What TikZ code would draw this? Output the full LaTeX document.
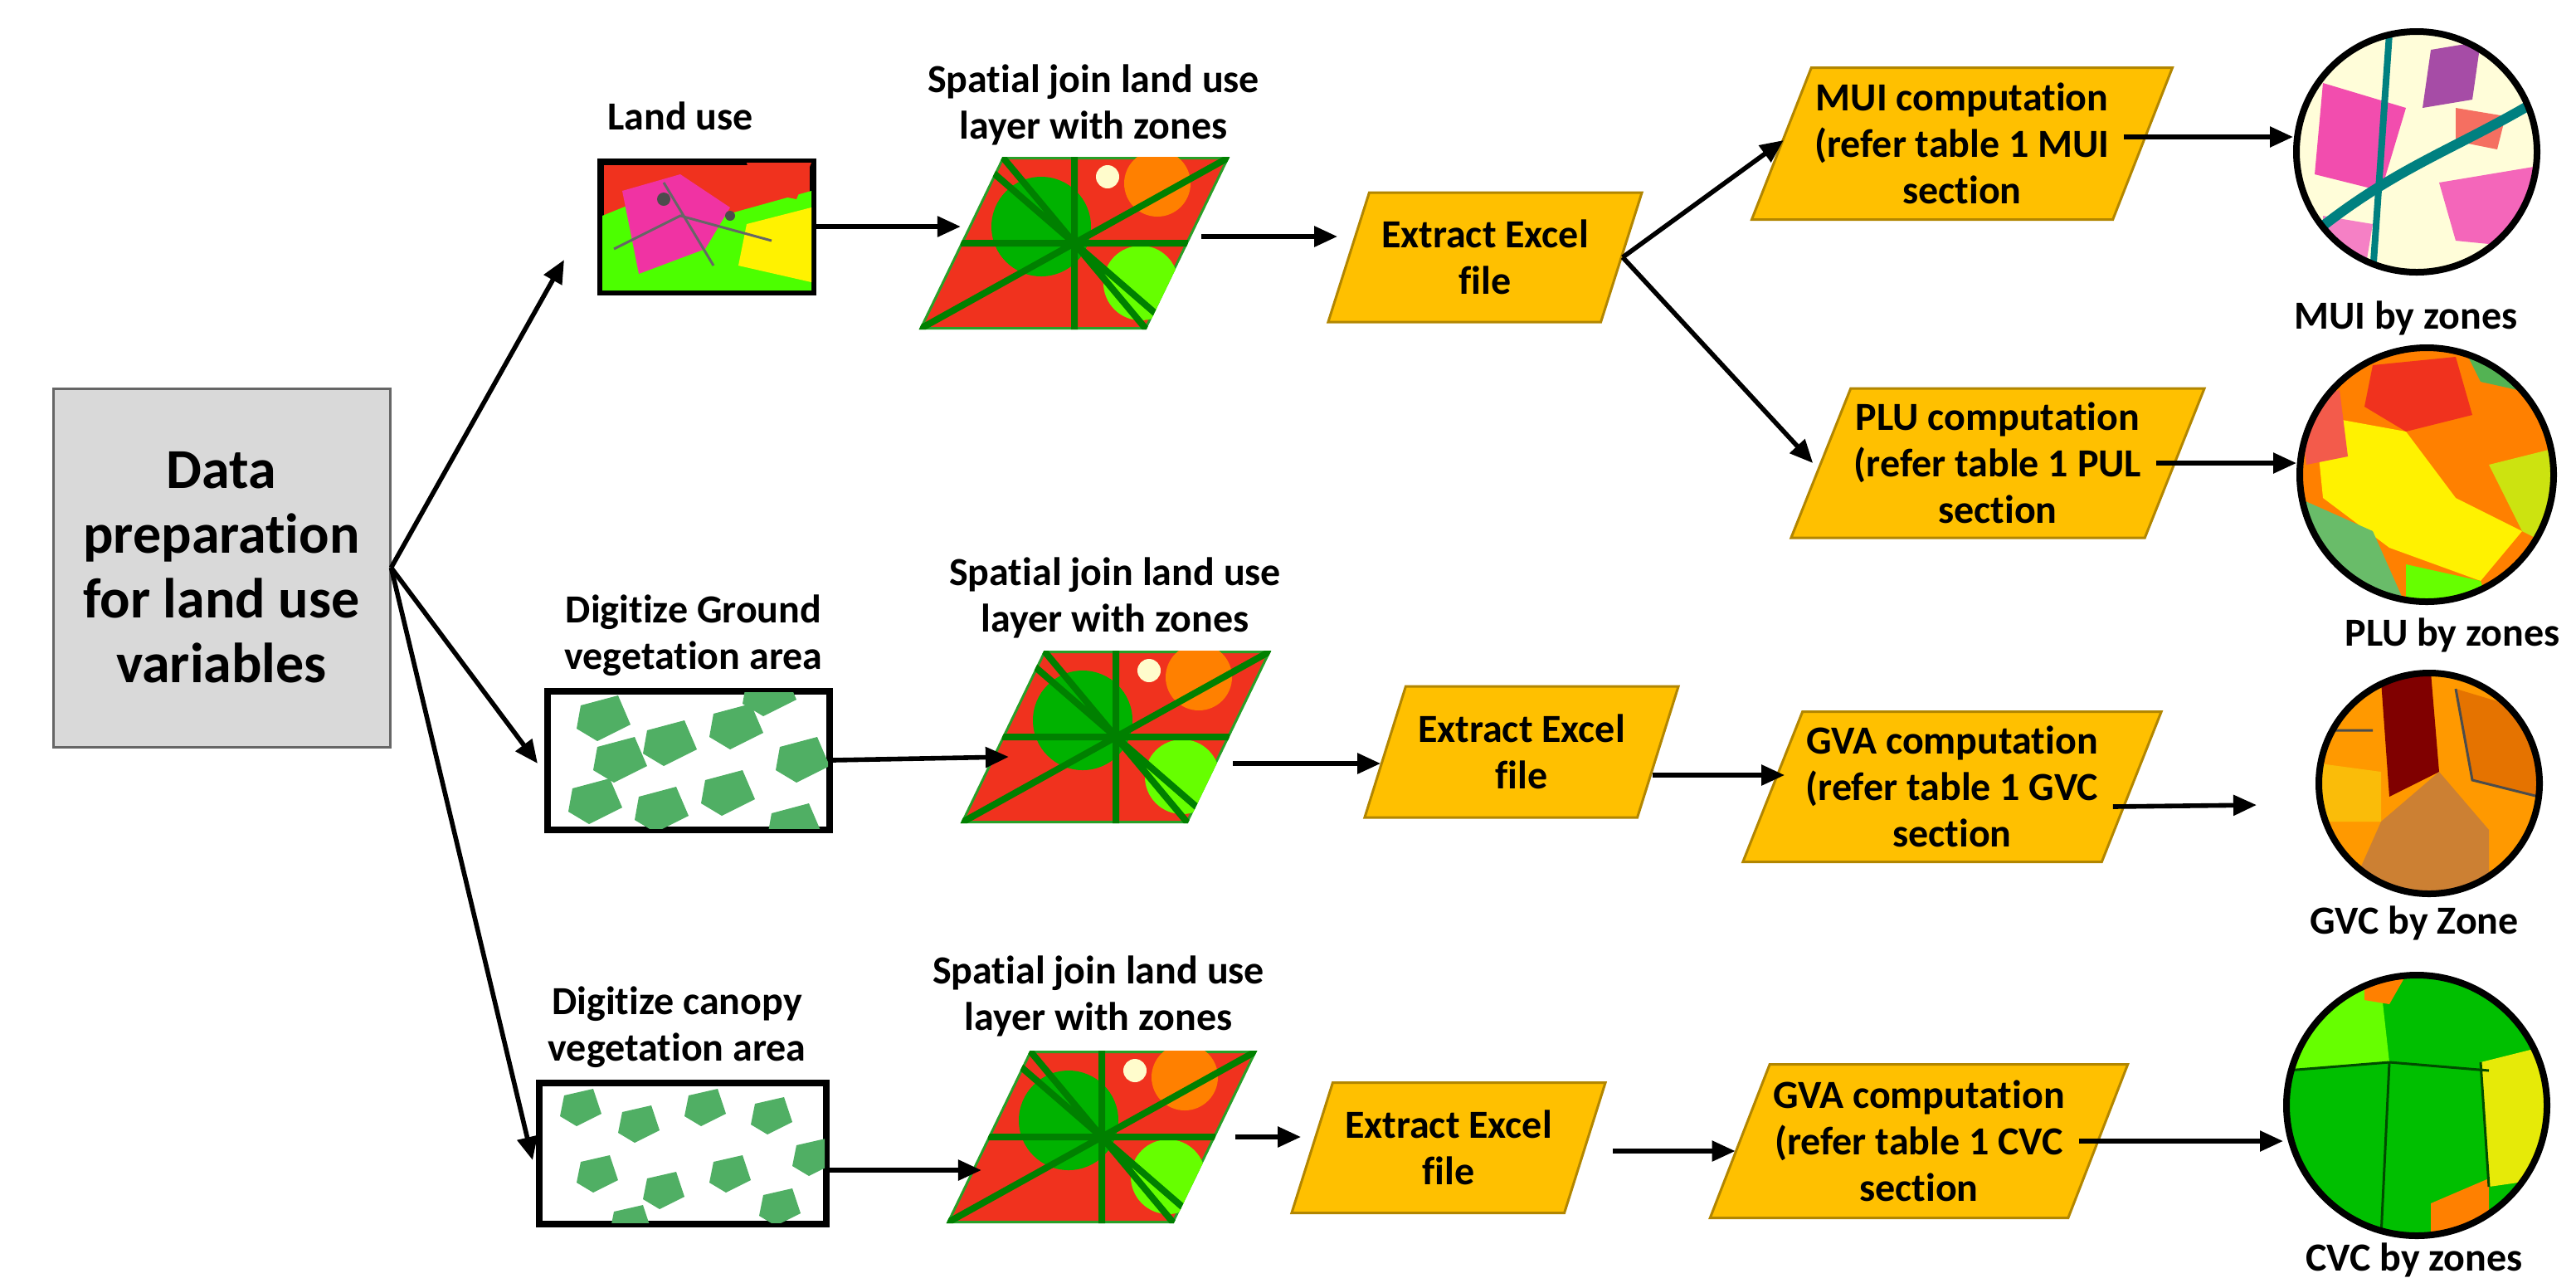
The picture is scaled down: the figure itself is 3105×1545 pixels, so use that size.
\documentclass[tikz,border=0pt]{standalone}
\usepackage{fontspec}
\setmainfont{Carlito}[Ligatures=NoCommon]
\usetikzlibrary{shapes.geometric,arrows.meta,positioning}
\definecolor{boxgray}{RGB}{217,217,217}
\definecolor{flow}{RGB}{255,192,0}
\definecolor{mapred}{RGB}{240,50,30}
\definecolor{mapgreen}{RGB}{40,160,40}
\definecolor{veg}{RGB}{80,175,100}
\tikzset{every picture/.style={line width=0.75pt}}
\tikzset{
  lbl/.style={font=\bfseries\fontsize{12}{14}\selectfont, align=center, inner sep=1pt},
  para/.style={trapezium, trapezium left angle=65, trapezium right angle=115, trapezium stretches=true,
    draw=flow!70!black, fill=flow, font=\bfseries\fontsize{12}{14}\selectfont, align=center, inner sep=1pt},
  mapimg/.style={trapezium, trapezium left angle=60, trapezium right angle=120, trapezium stretches=true,
    fill=mapred, draw=mapgreen, minimum width=370*0.25pt, minimum height=205*0.25pt},
  pic/.style={draw, line width=2pt, fill=white},
  link/.style={-{Triangle[length=7pt,width=6pt]}, line width=1.4pt}
}
\begin{document}
\begin{tikzpicture}[x=0.25pt,y=-0.25pt]
\useasboundingbox (0,0) rectangle (3105,1545);

% data preparation
\node (prep) [draw=black!60, fill=boxgray, minimum width=406*0.25pt, minimum height=432*0.25pt,
  font=\bfseries\fontsize{17}{19.5}\selectfont, align=center] at (267,684) {Data\\preparation\\for land use\\variables};

% input layers
\node (landpic) [pic, fill=mapred, minimum width=256*0.25pt, minimum height=157*0.25pt] at (852,273) {};
\begin{scope}
\clip (726,196) rectangle (978,350);
\fill[green!70!yellow] (726,260) -- (800,230) -- (870,260) -- (978,230) -- (978,350) -- (726,350) -- cycle;
\fill[magenta!80] (750,230) -- (820,210) -- (880,250) -- (850,300) -- (770,330) -- cycle;
\fill[yellow] (900,270) -- (978,250) -- (978,340) -- (890,320) -- cycle;
\fill[mapred] (900,196) -- (978,196) -- (960,240) -- (910,230) -- cycle;
\draw[black!60] (740,300) -- (820,260) -- (930,290) (800,220) -- (860,320);
\fill[black!70] (800,240) circle (8) (880,260) circle (6);
\end{scope}
\node (landlbl) [lbl] at (820,140) {Land use};
\node (groundpic) [pic, minimum width=340*0.25pt, minimum height=167*0.25pt] at (830,916) {};
\begin{scope}
\clip (662,834) rectangle (998,998);
\foreach \a/\b in {700/850, 780/880, 860/860, 940/900, 690/950, 770/960, 850/940, 930/980, 720/900, 900/820}
  \fill[veg] (\a,\b) -- ++(45,-12) -- ++(15,35) -- ++(-40,20) -- ++(-25,-15) -- cycle;
\end{scope}
\node (groundlbl) [lbl] at (836,766) {Digitize Ground\\vegetation area};
\node (canopypic) [pic, minimum width=346*0.25pt, minimum height=170*0.25pt] at (823,1390) {};
\begin{scope}
\clip (652,1307) rectangle (994,1473);
\foreach \a/\b in {680/1320, 750/1340, 830/1320, 910/1330, 960/1380, 700/1400, 780/1420, 860/1400, 920/1440, 740/1460}
  \fill[veg] (\a,\b) -- ++(35,-8) -- ++(10,30) -- ++(-30,15) -- ++(-20,-12) -- cycle;
\end{scope}
\node (canopylbl) [lbl] at (816,1238) {Digitize canopy\\vegetation area};

% spatial join layers
\foreach \n/\x/\y in {joina/1295/293, joinb/1345/888, joinc/1328/1370}{
  \node (\n) [mapimg] at (\x,\y) {};
  \begin{scope}
  \clip (\n.bottom left corner) -- (\n.top left corner) -- (\n.top right corner) -- (\n.bottom right corner) -- cycle;
  \fill[green!70!black] ([xshift=-10pt,yshift=5pt]\n.center) circle (60);
  \fill[green!60!yellow] ([xshift=20pt,yshift=-12pt]\n.center) circle (45);
  \fill[orange] ([xshift=25pt,yshift=18pt]\n.center) circle (40);
  \fill[white!80!yellow] ([xshift=10pt,yshift=20pt]\n.center) circle (14);
  \draw[green!50!black, line width=2pt] (\n.bottom left corner) -- (\n.top right corner)
    (\n.top left corner) -- (\n.bottom right corner) (\n.west) -- (\n.east) (\n.north) -- (\n.south)
    ([xshift=-30pt]\n.north) -- ([xshift=30pt]\n.south);
  \end{scope}
}
\node [lbl] at (1318,126) {Spatial join land use\\layer with zones};
\node [lbl] at (1344,720) {Spatial join land use\\layer with zones};
\node [lbl] at (1324,1200) {Spatial join land use\\layer with zones};

% extract excel
\node (exa) [para, minimum width=380*0.25pt, minimum height=156*0.25pt] at (1790,310) {Extract Excel\\file};
\node (exb) [para, minimum width=380*0.25pt, minimum height=158*0.25pt] at (1834,906) {Extract Excel\\file};
\node (exc) [para, minimum width=380*0.25pt, minimum height=157*0.25pt] at (1746,1383) {Extract Excel\\file};

% computations
\node (mui) [para, minimum width=490*0.25pt, minimum height=183*0.25pt] at (2365,173) {MUI computation\\(refer table 1 MUI\\section};
\node (plu) [para, minimum width=484*0.25pt, minimum height=180*0.25pt] at (2408,558) {PLU computation\\(refer table 1 PUL\\section};
\node (gvc) [para, minimum width=486*0.25pt, minimum height=181*0.25pt] at (2353,948) {GVA computation\\(refer table 1 GVC\\section};
\node (cvc) [para, minimum width=486*0.25pt, minimum height=185*0.25pt] at (2313,1375) {GVA computation\\(refer table 1 CVC\\section};

% zone maps
\begin{scope}
\clip (2913,183) circle (145);
\fill[yellow!15] (2913,183) circle (145);
\fill[magenta!70] (2800,100) -- (2900,130) -- (2870,230) -- (2790,210) -- cycle;
\fill[magenta!60] (2940,220) -- (3060,200) -- (3060,300) -- (2960,290) -- cycle;
\fill[violet!70] (2930,60) -- (2990,50) -- (2980,120) -- (2920,130) -- cycle;
\fill[magenta!50] (2800,260) -- (2860,270) -- (2850,330) -- (2800,320) -- cycle;
\fill[mapred!70] (2960,130) -- (3020,140) -- (3010,180) -- (2960,170) -- cycle;
\draw[teal, line width=3pt] (2790,280) .. controls (2890,200) and (2960,180) .. (3060,120);
\draw[teal, line width=2pt] (2880,40) -- (2860,330);
\end{scope}
\node (muimap) [circle, draw, line width=2pt, minimum size=290*0.25pt] at (2913,183) {};
\begin{scope}
\clip (2925,572) circle (153);
\fill[orange] (2925,572) circle (153);
\fill[yellow] (2790,500) -- (2900,520) -- (2960,600) -- (3040,640) -- (2990,700) -- (2880,660) -- (2800,600) -- cycle;
\fill[mapred] (2860,440) -- (2960,430) -- (2980,500) -- (2900,520) -- (2850,490) -- cycle;
\fill[mapred!80] (2770,480) -- (2820,470) -- (2830,550) -- (2780,560) -- cycle;
\fill[mapgreen!80] (2960,400) -- (3080,440) -- (3080,480) -- (2990,460) -- cycle;
\fill[mapgreen!70] (2770,600) -- (2860,640) -- (2900,730) -- (2770,730) -- cycle;
\fill[green!60!yellow] (2900,680) -- (2990,700) -- (3000,730) -- (2900,730) -- cycle;
\fill[yellow!80!green] (3000,560) -- (3080,540) -- (3080,660) -- (3040,640) -- cycle;
\end{scope}
\node (plumap) [circle, draw, line width=2pt, minimum size=306*0.25pt] at (2925,572) {};
\begin{scope}
\clip (2928,944) circle (133);
\fill[orange!80!yellow] (2928,944) circle (133);
\fill[red!50!black] (2870,820) -- (2930,810) -- (2940,930) -- (2880,960) -- cycle;
\fill[brown!80!orange] (2870,990) -- (2940,930) -- (3000,1000) -- (3000,1080) -- (2830,1080) -- cycle;
\fill[yellow!50!orange] (2796,920) -- (2870,930) -- (2870,990) -- (2796,990) -- cycle;
\fill[orange!90!black] (2960,830) -- (3060,860) -- (3060,960) -- (2980,940) -- cycle;
\draw[black!70] (2796,880) -- (2860,880) (2960,830) -- (2980,940) -- (3060,960);
\end{scope}
\node (gvcmap) [circle, draw, line width=2pt, minimum size=266*0.25pt] at (2928,944) {};
\begin{scope}
\clip (2913,1332) circle (157);
\fill[green!75!black] (2913,1332) circle (157);
\fill[green!60!yellow] (2756,1200) -- (2870,1190) -- (2880,1280) -- (2756,1290) -- cycle;
\fill[yellow!90!green] (2990,1280) -- (3070,1260) -- (3070,1420) -- (3000,1430) -- cycle;
\fill[orange] (2850,1175) -- (2900,1175) -- (2880,1210) -- (2850,1205) -- cycle;
\fill[orange] (2930,1450) -- (3000,1420) -- (3000,1490) -- (2930,1490) -- cycle;
\draw[green!30!black] (2756,1290) -- (2880,1280) -- (3000,1290) (2880,1280) -- (2870,1490) (2990,1280) -- (3000,1430);
\end{scope}
\node (cvcmap) [circle, draw, line width=2pt, minimum size=314*0.25pt] at (2913,1332) {};
\node [lbl] at (2900,383) {MUI by zones};
\node [lbl] at (2956,765) {PLU by zones};
\node [lbl] at (2910,1112) {GVC by Zone};
\node [lbl] at (2910,1518) {CVC by zones};

% connectors
\coordinate (grnd) at (2720,970);
\coordinate (exbout) at ([xshift=-2pt,yshift=-7pt]exb.east);
\coordinate (muiout) at ([xshift=-6pt,yshift=2pt]mui.east);
\draw[link] (prep.east) -- ([xshift=-10pt,yshift=-10pt]landpic.west);
\draw[link] (prep.east) -- ([xshift=-2pt,yshift=-1pt]groundpic.west);
\draw[link] (prep.east) -- ([xshift=-1pt,yshift=-2pt]canopypic.west);
\draw[link] (landpic.east) -- (joina.west |- landpic.east);
\draw[link] (groundpic.east) -- ([xshift=2pt,yshift=1pt]joinb.west |- groundpic.east);
\draw[link] ([yshift=-5pt]canopypic.east) -- ([xshift=-2pt,yshift=-5pt]joinc.west |- canopypic.east);
\draw[link] ([xshift=4pt,yshift=2pt]joina.east) -- ([xshift=-3pt,yshift=2pt]exa.west |- joina.east);
\draw[link] ([xshift=1pt,yshift=-8pt]joinb.east) -- ([xshift=-1pt,yshift=-8pt]exb.west |- joinb.east);
\draw[link] ([xshift=6pt]joinc.east) -- ([xshift=-3pt]exc.west |- joinc.east);
\draw[link] (exa.east) -- ([xshift=1pt,yshift=1pt]mui.west);
\draw[link] (exa.east) -- ([xshift=-2pt]plu.west);
\draw[link] (exbout) -- ([xshift=4pt]gvc.west |- exbout);
\draw[link] ([xshift=8pt,yshift=-1pt]exc.east) -- ([xshift=-1pt,yshift=-1pt]cvc.west |- exc.east);
\draw[link] (muiout) -- (muimap.west |- muiout);
\draw[link] ([xshift=-6pt]plu.east) -- (plumap.west |- plu.east);
\draw[link] ([xshift=-6pt,yshift=-6pt]gvc.east) -- (grnd);
\draw[link] ([xshift=-6pt]cvc.east) -- (cvcmap.west |- cvc.east);
\end{tikzpicture}
\end{document}
